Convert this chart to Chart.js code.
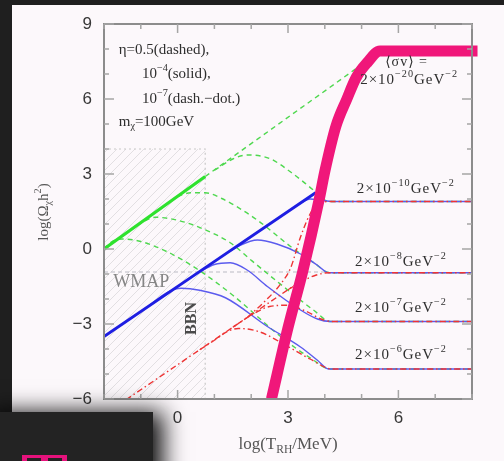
<!DOCTYPE html>
<html>
<head>
<meta charset="utf-8">
<script src="https://cdn.jsdelivr.net/npm/chart.js@4.4.1/dist/chart.umd.min.js"></script>
<style>
  html, body { margin: 0; padding: 0; background: #fcf8fb; }
  #wrap { width: 504px; height: 461px; position: relative; }
</style>
</head>
<body>
<div id="wrap"><canvas id="relic"></canvas></div>
<script>
// axis ranges and tick labels
const xRange = [-2, 8]
const yRange = [-6, 9]
const xTickLabels = [0, 3, 6]
const yTickLabels = [9, 6, 3, 0, -3, -6]

// eta = 0.5 (green, dashed)
const greenBase = [[-2, 0], [0.75, 2.9]]
const greenRise = [[0.75, 2.9], [5.5, 7.9]]
const green10 = [[1.0, 3.15], [1.5, 3.6], [1.9, 3.76], [2.5, 3.62], [3.1, 3.05], [3.7, 2.35], [4.1, 1.9], [8, 1.9]]
const green8 = [[0.0, 2.1], [0.35, 2.25], [0.75, 2.25], [1.2, 2.02], [1.6, 1.7], [2.2, 1.12], [3.07, 0.1], [3.7, -0.55], [4.15, -0.95], [8, -0.95]]
const green7 = [[-1.1, 0.95], [-0.6, 1.27], [0.0, 1.15], [0.7, 0.8], [1.43, 0.25], [2.0, -0.45], [3.0, -1.65], [3.7, -2.45], [4.15, -2.9], [8, -2.9]]
const green6 = [[-2, 0], [-1.8, 0.28], [-1.5, 0.4], [-1.0, 0.3], [-0.3, -0.1], [0.53, -0.8], [1.5, -1.85], [2.88, -3.6], [3.6, -4.35], [4.15, -4.8], [8, -4.8]]

// eta = 1e-4 (blue, solid)
const blueBase = [[-2, -3.5], [3.75, 2.25]]
const blue10 = [[3.3, 1.8], [3.6, 2.0], [3.9, 1.95], [4.2, 1.9], [8, 1.9]]
const blue8 = [[1.2, -0.3], [1.7, 0.15], [2.17, 0.36], [2.7, 0.2], [3.34, -0.2], [3.8, -0.65], [4.1, -0.95], [8, -0.95]]
const blue7 = [[0.5, -1.0], [1.0, -0.62], [1.43, -0.55], [1.9, -0.85], [2.44, -1.5], [3.34, -2.44], [3.8, -2.8], [4.15, -2.9], [8, -2.9]]
const blue6 = [[-0.8, -2.3], [-0.3, -1.75], [0.1, -1.57], [0.6, -1.65], [1.3, -1.95], [2.44, -3.1], [3.34, -3.92], [3.8, -4.45], [4.1, -4.8], [8, -4.8]]

// eta = 1e-7 (red, dash-dot)
const redBase = [[-1.4, -6.03], [3.3, -1.33]]
const red10 = [[1.9, -2.73], [2.4, -2.05], [2.8, -1.4], [3.07, -0.76], [3.34, 0.48], [3.6, 1.4], [3.85, 1.85], [4.2, 1.9], [8, 1.9]]
const red8 = [[3.0, -1.63], [3.4, -1.28], [3.75, -1.05], [4.1, -0.95], [8, -0.95]]
const red7 = [[1.5, -3.13], [2.0, -2.65], [2.5, -2.3], [3.0, -2.25], [3.5, -2.5], [3.9, -2.8], [4.2, -2.9], [8, -2.9]]
const red6 = [[0.6, -4.03], [1.0, -3.65], [1.35, -3.3], [1.65, -3.18], [2.2, -3.3], [3.0, -3.9], [3.6, -4.4], [4.2, -4.8], [8, -4.8]]

// thick boundary curve
const boundary = [[2.55, -6], [3.0, -3.15], [3.4, -0.9], [3.85, 2.0], [4.0, 3.1], [4.3, 4.9], [4.6, 6.0], [4.85, 6.85], [5.15, 7.45], [5.5, 7.92], [8.15, 7.92]]

// shaded BBN-excluded box and reference levels
const bbnX = 0.75
const hatchTop = 4
const wmapY = -0.92
const wmapEnd = 4.1

// cross-section labels: [x, y, exponent]
const sigmaLabels = [[4.96, 6.76, "-20"], [4.87, 2.4, "-10"], [4.82, -0.52, "-8"], [4.82, -2.36, "-7"], [4.82, -4.24, "-6"]]

const GREEN = "#4fd84f"
const BLUE = "#5b5bee"
const BLUE_DARK = "#1e1ee2"
const RED = "#ee3434"
const PINK = "#f0177a"

function line(points, color, width, dash, order) {
  return {
    data: points.map(p => ({ x: p[0], y: p[1] })),
    borderColor: color,
    borderWidth: width,
    borderDash: dash || [],
    pointRadius: 0,
    fill: false,
    cubicInterpolationMode: "monotone",
    order: order
  }
}

const DASH = [5, 4]
const DASHDOT = [6, 3, 1.5, 3]

const datasets = [
  Object.assign(line(boundary, PINK, 11, null, 0), { clip: { left: 0, top: 10, right: 12, bottom: 0 }, borderCapStyle: "butt" }),
  line(red6, RED, 1.4, DASHDOT, 1),
  line(red7, RED, 1.4, DASHDOT, 1),
  line(red8, RED, 1.4, DASHDOT, 1),
  line(red10, RED, 1.4, DASHDOT, 1),
  line(redBase, RED, 1.4, DASHDOT, 1),
  line(blueBase, BLUE_DARK, 3, null, 2),
  line(blue6, BLUE, 1.4, null, 2),
  line(blue7, BLUE, 1.4, null, 2),
  line(blue8, BLUE, 1.4, null, 2),
  line(blue10, BLUE, 1.4, null, 2),
  line(greenBase, "#2ee22e", 3.2, null, 3),
  line(greenRise, GREEN, 1.4, DASH, 3),
  line(green10, GREEN, 1.4, DASH, 3),
  line(green8, GREEN, 1.4, DASH, 3),
  line(green7, GREEN, 1.4, DASH, 3),
  line(green6, GREEN, 1.4, DASH, 3)
]

// text with sub/superscripts; parts are [text, "sup" | "sub" | ""]
function richWidth(ctx, parts, size, family) {
  let w = 0
  for (const [t, k] of parts) {
    ctx.font = (k ? size * 0.68 : size) + "px " + family
    w += ctx.measureText(t).width
  }
  return w
}
function drawRich(ctx, parts, x, y, size, family, color) {
  ctx.fillStyle = color
  ctx.textBaseline = "middle"
  ctx.textAlign = "left"
  for (const [t, k] of parts) {
    ctx.font = (k ? size * 0.68 : size) + "px " + family
    const dy = k === "sup" ? -size * 0.38 : k === "sub" ? size * 0.3 : 0
    ctx.fillText(t, x, y + dy)
    x += ctx.measureText(t).width
  }
}

const SERIF = "'Liberation Serif', 'DejaVu Serif', serif"
const SANS = "'Liberation Sans', Arial, sans-serif"

const decor = {
  id: "decor",
  beforeDatasetsDraw(chart) {
    const { ctx, chartArea: a, scales: { x, y } } = chart
    ctx.save()
    // hatched region left of BBN
    const hx0 = x.getPixelForValue(xRange[0]), hx1 = x.getPixelForValue(bbnX)
    const hy0 = y.getPixelForValue(hatchTop), hy1 = y.getPixelForValue(yRange[0])
    ctx.beginPath()
    ctx.rect(hx0, hy0, hx1 - hx0, hy1 - hy0)
    ctx.clip()
    ctx.strokeStyle = "#e2dfe2"
    ctx.lineWidth = 1
    for (let k = -300; k < 300; k += 9) {
      ctx.beginPath()
      ctx.moveTo(hx0 + k, hy1)
      ctx.lineTo(hx0 + k + (hy1 - hy0), hy0)
      ctx.stroke()
    }
    ctx.restore()

    ctx.save()
    ctx.strokeStyle = "#c8c8c8"
    ctx.lineWidth = 1.2
    ctx.setLineDash([2, 3])
    ctx.beginPath()
    ctx.moveTo(hx0, hy0)
    ctx.lineTo(hx1, hy0)
    ctx.lineTo(hx1, hy1)
    ctx.stroke()
    // WMAP level
    ctx.strokeStyle = "#b9b9c4"
    ctx.setLineDash([4, 3])
    const wy = y.getPixelForValue(wmapY)
    ctx.beginPath()
    ctx.moveTo(a.left, wy)
    ctx.lineTo(x.getPixelForValue(wmapEnd), wy)
    ctx.stroke()
    ctx.restore()

    ctx.save()
    ctx.fillStyle = "#858585"
    ctx.font = "18px " + SERIF
    ctx.textBaseline = "middle"
    ctx.fillText("WMAP", x.getPixelForValue(-1.75), y.getPixelForValue(-1.32))
    ctx.translate(x.getPixelForValue(0.4), y.getPixelForValue(-2.78))
    ctx.rotate(-Math.PI / 2)
    ctx.fillStyle = "#4a4a4a"
    ctx.font = "bold 16px " + SERIF
    ctx.textAlign = "center"
    ctx.fillText("BBN", 0, 0)
    ctx.restore()
  },
  afterDatasetsDraw(chart) {
    const { ctx, chartArea: a, scales: { x, y } } = chart
    ctx.save()
    // frame and inward ticks
    ctx.strokeStyle = "#8c8c8c"
    ctx.lineWidth = 2
    ctx.strokeRect(a.left, a.top, a.right - a.left, a.bottom - a.top)
    ctx.lineWidth = 1.5
    ctx.strokeStyle = "#a5a5a5"
    for (let v = xRange[0]; v <= xRange[1]; v++) {
      const px = x.getPixelForValue(v), len = v % 3 === 0 ? 9 : 5
      ctx.beginPath()
      ctx.moveTo(px, a.bottom); ctx.lineTo(px, a.bottom - len)
      ctx.moveTo(px, a.top); ctx.lineTo(px, a.top + len)
      ctx.stroke()
    }
    for (let v = yRange[0]; v <= yRange[1]; v++) {
      const py = y.getPixelForValue(v), len = v % 3 === 0 ? 10 : 5
      ctx.beginPath()
      ctx.moveTo(a.left, py); ctx.lineTo(a.left + len, py)
      ctx.moveTo(a.right, py); ctx.lineTo(a.right - len, py)
      ctx.stroke()
    }

    // tick labels
    ctx.fillStyle = "#383838"
    ctx.font = "17px " + SANS
    ctx.textBaseline = "middle"
    ctx.textAlign = "right"
    for (const v of yTickLabels) {
      ctx.fillText(v < 0 ? "\u2212" + (-v) : String(v), a.left - 12, y.getPixelForValue(v))
    }
    ctx.textAlign = "center"
    for (const v of xTickLabels) {
      ctx.fillText(String(v), x.getPixelForValue(v), a.bottom + 19)
    }

    // axis titles
    const xt = [["log(T", ""], ["RH", "sub"], ["/MeV)", ""]]
    const xw = richWidth(ctx, xt, 17, SERIF)
    drawRich(ctx, xt, (a.left + a.right) / 2 - xw / 2, a.bottom + 46, 17, SERIF, "#555")
    ctx.save()
    ctx.translate(44, 212)
    ctx.rotate(-Math.PI / 2)
    const yt = [["log(\u03a9", ""], ["\u03c7", "sub"], ["h", ""], ["2", "sup"], [")", ""]]
    const yw = richWidth(ctx, yt, 15, SERIF)
    drawRich(ctx, yt, -yw / 2, 0, 15, SERIF, "#555")
    ctx.restore()

    // parameter notes
    const ink = "#2e2e2e"
    drawRich(ctx, [["\u03b7=0.5(dashed),", ""]], x.getPixelForValue(-1.6), y.getPixelForValue(7.96), 15, SERIF, ink)
    drawRich(ctx, [["10", ""], ["\u22124", "sup"], ["(solid),", ""]], x.getPixelForValue(-0.97), y.getPixelForValue(7.0), 15, SERIF, ink)
    drawRich(ctx, [["10", ""], ["\u22127", "sup"], ["(dash.\u2212dot.)", ""]], x.getPixelForValue(-0.97), y.getPixelForValue(6.0), 15, SERIF, ink)
    drawRich(ctx, [["m", ""], ["\u03c7", "sub"], ["=100GeV", ""]], x.getPixelForValue(-1.6), y.getPixelForValue(5.08), 15, SERIF, ink)

    ctx.letterSpacing = "1px"
    drawRich(ctx, [["\u27e8\u03c3v\u27e9 =", ""]], x.getPixelForValue(5.64), y.getPixelForValue(7.48), 14, SERIF, ink)
    for (const [lx, ly, e] of sigmaLabels) {
      drawRich(ctx, [["2\u00d710", ""], ["\u2212" + e.slice(1), "sup"], ["GeV", ""], ["\u22122", "sup"]],
        x.getPixelForValue(lx), y.getPixelForValue(ly), 15, SERIF, ink)
    }
    ctx.letterSpacing = "0px"
    ctx.restore()
  },
  beforeDraw(chart) {
    const { ctx, width } = chart
    ctx.save()
    ctx.fillStyle = "#fcf8fb"
    ctx.fillRect(0, 0, width, chart.height)
    ctx.fillStyle = "#1f1f1f"
    ctx.fillRect(0, 0, width, 5)
    ctx.fillRect(0, 0, 12, chart.height)
    ctx.restore()
  },
  afterDraw(chart) {
    const { ctx, height } = chart
    ctx.save()
    // dark panel in the lower-left corner with its soft shadow
    ctx.shadowColor = "rgba(0,0,0,0.95)"
    ctx.shadowBlur = 22
    ctx.shadowOffsetX = 10
    ctx.fillStyle = "#232323"
    ctx.fillRect(-20, 412, 173, height)
    ctx.shadowColor = "transparent"
    ctx.fillRect(-20, 412, 173, height)
    ctx.fillStyle = "#e5127c"
    ctx.fillRect(22, 455, 45, 6)
    ctx.fillStyle = "#232323"
    ctx.fillRect(27, 458, 14, 3)
    ctx.fillRect(48, 458, 14, 3)
    ctx.restore()
  }
}

new Chart(document.getElementById("relic"), {
  type: "line",
  data: { datasets },
  options: {
    responsive: true,
    maintainAspectRatio: false,
    animation: false,
    layout: { padding: { left: 104, right: 32, top: 24, bottom: 62 } },
    plugins: { legend: { display: false }, tooltip: { enabled: false } },
    scales: {
      x: { type: "linear", min: xRange[0], max: xRange[1], display: false },
      y: { type: "linear", min: yRange[0], max: yRange[1], display: false }
    }
  },
  plugins: [decor]
})
</script>
</body>
</html>
